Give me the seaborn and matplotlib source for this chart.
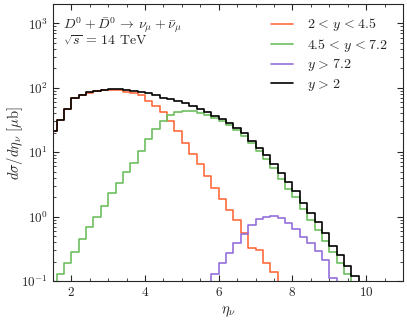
import numpy as np
import pandas as pd
import matplotlib
import seaborn as sns
import matplotlib.pyplot as plt
from matplotlib.ticker import MultipleLocator, LogLocator

matplotlib.use('Agg')

# bin edges in eta: 1.4 ... 10.0, width 0.2
edges = [round(1.4 + 0.2 * i, 2) for i in range(44)]
centers = [round(e + 0.1, 2) for e in edges[:-1]]

# d sigma / d eta [mu b]
low_y = [21, 32, 47, 70, 77, 84, 88, 91, 92, 92, 87, 83, 76, 63, 52, 42, 30, 21, 14, 9.5,
         6.6, 4.3, 2.8, 1.85, 1.26, 0.87, 0.56, 0.32, 0.30, 0.19, 0.14, 0, 0, 0, 0, 0,
         0, 0, 0, 0, 0, 0, 0]
mid_y = [0.08, 0.127, 0.19, 0.28, 0.45, 0.68, 1.0, 1.48, 2.3, 3.3, 4.9, 6.8, 10.6, 16, 23, 31,
         38, 41.5, 43, 43, 41, 38, 34, 30, 26, 22, 18, 14, 10.5, 7.9, 5.6, 3.9, 2.7, 2.0,
         1.3, 0.9, 0.62, 0.42, 0.28, 0.19, 0.13, 0, 0]
high_y = [0, 0, 0, 0, 0, 0, 0, 0, 0, 0, 0, 0, 0, 0, 0, 0, 0, 0, 0, 0, 0, 0, 0.13, 0.19, 0.27,
          0.39, 0.54, 0.73, 0.92, 1.0, 1.03, 0.95, 0.79, 0.63, 0.49, 0.39, 0.29, 0.21, 0.11,
          0, 0, 0, 0]
all_y = [21, 32, 47, 70, 78, 85, 90, 93, 95, 95, 93, 90, 86, 82, 78, 70, 66, 62, 57, 52,
         46, 41.5, 37, 32.5, 28, 23.5, 19.5, 15, 11.5, 8.9, 6.5, 4.7, 3.4, 2.5, 1.63, 1.14,
         0.81, 0.56, 0.35, 0.25, 0.17, 0.12, 0]

sp = r'\hspace{0.12}'
labels = [rf'$2{sp}<{sp}y{sp}<{sp}4.5$', rf'$4.5{sp}<{sp}y{sp}<{sp}7.2$',
          rf'$y{sp}>{sp}7.2$', rf'$y{sp}>{sp}2$']
colors = ['#ff6b3d', '#6dbf5f', '#9370db', 'black']

sns.set_style('ticks')
plt.rcParams['font.family'] = 'serif'
plt.rcParams['font.serif'] = ['cmr10', 'DejaVu Serif']
plt.rcParams['mathtext.fontset'] = 'cm'
plt.rcParams['axes.formatter.use_mathtext'] = True
plt.rcParams['font.size'] = 9

fig = plt.figure(figsize=(4.07, 3.2), dpi=100)
ax = fig.add_axes([0.130, 0.122, 0.860, 0.8655])

for vals, lab, col in zip([low_y, mid_y, high_y, all_y], labels, colors):
    df = pd.DataFrame({'eta': centers, 'w': vals})
    sns.histplot(data=df, x='eta', weights='w', bins=edges, element='step', fill=False,
                 color=col, linewidth=1.2, label=lab, ax=ax)

ax.set_yscale('log')
ax.set_xlim(1.5, 11)
ax.set_ylim(0.1, 2000)
ax.xaxis.set_major_locator(MultipleLocator(2))
ax.xaxis.set_minor_locator(MultipleLocator(0.5))
ax.yaxis.set_major_locator(LogLocator(base=10))
ax.yaxis.set_minor_locator(LogLocator(base=10, subs=np.arange(2, 10)))
ax.tick_params(which='both', direction='in', top=True, right=True, labelsize=9.5)
ax.tick_params(which='major', length=4.5, width=0.8)
ax.tick_params(which='minor', length=2.5, width=0.6)

ax.set_xlabel(r'$\eta_\nu$', fontsize=10.5, labelpad=4)
ax.set_ylabel(r'$d\sigma/d\eta_\nu$ [$\mu$b]', fontsize=10.5)
ax.yaxis.set_label_coords(-0.08, 0.5)

ax.text(0.03, 0.96, r'$D^0 + \bar{D}^0 \,\to\, \nu_\mu + \bar{\nu}_\mu$',
        transform=ax.transAxes, fontsize=10, va='top', ha='left')
ax.text(0.03, 0.89, r'$\sqrt{s} \,=\, 14$ TeV', transform=ax.transAxes,
        fontsize=10, va='top', ha='left')

ax.legend(loc='upper right', bbox_to_anchor=(0.985, 0.99), frameon=False, fontsize=10,
          handlelength=1.6, handletextpad=1.0, labelspacing=0.25, borderaxespad=0.3)

fig.savefig('out.png', dpi=100)
